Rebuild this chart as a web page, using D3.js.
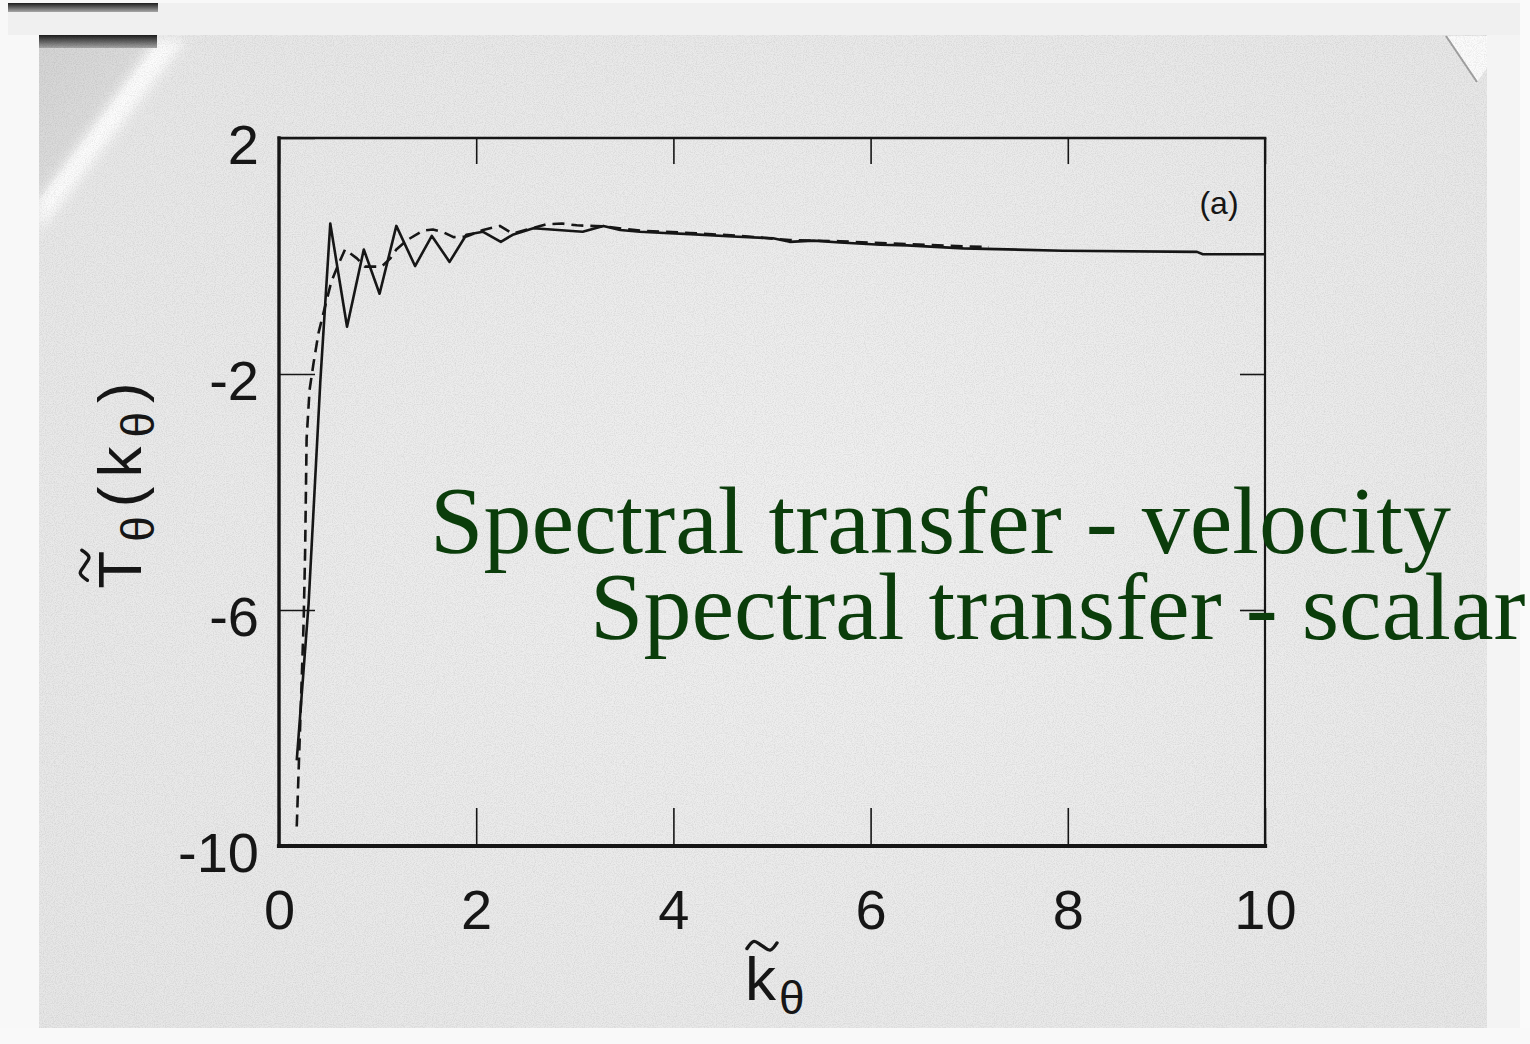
<!DOCTYPE html>
<html>
<head>
<meta charset="utf-8">
<script src="https://cdn.jsdelivr.net/npm/d3@7"></script>
<style>
  html, body { margin: 0; padding: 0; background: #f8f8f8; }
  svg { display: block; }
</style>
</head>
<body>
<svg id="chart" width="1530" height="1044"></svg>
<script>
// Spectral transfer of the scalar, T~θ(kθ), versus normalised wavenumber k~θ
const solidK = [0.18, 0.30, 0.42, 0.52, 0.69, 0.86, 1.02, 1.19, 1.38, 1.55, 1.73, 1.90, 2.07, 2.25, 2.37, 2.58, 3.08, 3.29, 3.46, 3.66, 3.91, 4.17, 4.60, 5.01, 5.18, 5.42, 5.69, 6.10, 6.37, 6.94, 7.95, 9.31, 9.37, 10.0];
const solidT = [-8.55, -5.9, -2.1, 0.55, -1.20, 0.11, -0.64, 0.51, -0.17, 0.34, -0.10, 0.36, 0.41, 0.24, 0.36, 0.47, 0.41, 0.51, 0.44, 0.41, 0.39, 0.37, 0.33, 0.30, 0.24, 0.26, 0.23, 0.19, 0.18, 0.13, 0.09, 0.07, 0.03, 0.03];

const dashedK = [0.18, 0.25, 0.265, 0.28, 0.31, 0.35, 0.40, 0.45, 0.53, 0.60, 0.67, 0.79, 0.87, 1.04, 1.13, 1.19, 1.30, 1.46, 1.56, 1.67, 1.77, 1.90, 2.07, 2.24, 2.37, 2.72, 2.87, 3.02, 3.30, 3.66, 4.17, 4.68, 5.18, 5.69, 6.37, 7.20];
const dashedT = [-9.67, -6.2, -5.0, -3.1, -2.27, -1.82, -1.31, -0.97, -0.44, -0.15, 0.11, -0.04, -0.18, -0.18, -0.04, 0.11, 0.27, 0.43, 0.45, 0.40, 0.32, 0.33, 0.44, 0.51, 0.38, 0.54, 0.55, 0.52, 0.50, 0.43, 0.39, 0.34, 0.27, 0.25, 0.20, 0.15];

const xTicks = [0, 2, 4, 6, 8, 10];
const xTickLabels = ["0", "2", "4", "6", "8", "10"];
const yTicks = [2, -2, -6, -10];
const yTickLabels = ["2", "-2", "-6", "-10"];
const panelTag = "(a)";
const overlayLines = ["Spectral transfer - velocity", "Spectral transfer - scalar"];

const svg = d3.select("#chart");
const defs = svg.append("defs");

// ---------- paper / slide background ----------
const pageGrad = defs.append("radialGradient").attr("id", "pageGrad")
  .attr("cx", "55%").attr("cy", "50%").attr("r", "75%");
pageGrad.append("stop").attr("offset", "0%").attr("stop-color", "#f0f0f0");
pageGrad.append("stop").attr("offset", "100%").attr("stop-color", "#e6e6e6");

const darkBar = defs.append("linearGradient").attr("id", "darkBar")
  .attr("x1", 0).attr("y1", 0).attr("x2", 0).attr("y2", 1);
darkBar.append("stop").attr("offset", "0%").attr("stop-color", "#1c1c1c");
darkBar.append("stop").attr("offset", "100%").attr("stop-color", "#a8a8a8");

const foldShade = defs.append("linearGradient").attr("id", "foldShade")
  .attr("x1", 0).attr("y1", 0).attr("x2", 1).attr("y2", 1);
foldShade.append("stop").attr("offset", "0%").attr("stop-color", "#d4d4d4");
foldShade.append("stop").attr("offset", "100%").attr("stop-color", "#e4e4e4");

const soft = defs.append("filter").attr("id", "soft")
  .attr("x", "-20%").attr("y", "-20%").attr("width", "140%").attr("height", "140%");
soft.append("feGaussianBlur").attr("stdDeviation", 6);

const grain = defs.append("filter").attr("id", "grain")
  .attr("x", 0).attr("y", 0).attr("width", "100%").attr("height", "100%");
grain.append("feTurbulence").attr("type", "fractalNoise")
  .attr("baseFrequency", 0.9).attr("numOctaves", 2).attr("seed", 7).attr("result", "n");
grain.append("feColorMatrix").attr("in", "n").attr("type", "matrix")
  .attr("values", "0 0 0 0 0  0 0 0 0 0  0 0 0 0 0  0 0 0 -1.6 1.0");

const clipPage = defs.append("clipPath").attr("id", "clipPage");
clipPage.append("rect").attr("x", 39).attr("y", 35).attr("width", 1448).attr("height", 993);

// outer sheet
svg.append("rect").attr("x", 8).attr("y", 3).attr("width", 1512).attr("height", 1027).attr("fill", "#f0f0f0");
svg.append("rect").attr("x", 8).attr("y", 3).attr("width", 150).attr("height", 9).attr("fill", "url(#darkBar)");
svg.append("rect").attr("x", 0).attr("y", 35).attr("width", 39).attr("height", 1009).attr("fill", "#f8f8f8");
svg.append("rect").attr("x", 1487).attr("y", 35).attr("width", 43).attr("height", 1009).attr("fill", "#f4f4f4");
svg.append("rect").attr("x", 1520).attr("y", 0).attr("width", 10).attr("height", 1044).attr("fill", "#fafafa");
svg.append("rect").attr("x", 0).attr("y", 1028).attr("width", 1530).attr("height", 16).attr("fill", "#f9f9f9");

// scanned page
const page = svg.append("g").attr("clip-path", "url(#clipPage)");
page.append("rect").attr("x", 39).attr("y", 35).attr("width", 1448).attr("height", 993).attr("fill", "url(#pageGrad)");
// folded corner, top left
page.append("polygon").attr("points", "39,46 156,46 39,200").attr("fill", "url(#foldShade)");
page.append("polygon").attr("points", "156,40 186,40 39,232 39,200")
  .attr("fill", "#fdfdfd").attr("filter", "url(#soft)");
page.append("rect").attr("x", 39).attr("y", 35).attr("width", 118).attr("height", 13).attr("fill", "url(#darkBar)");
// folded corner, top right
page.append("polygon").attr("points", "1446,36 1487,36 1487,68 1477,82").attr("fill", "#fbfbfb");
page.append("line").attr("x1", 1446).attr("y1", 36).attr("x2", 1477).attr("y2", 82)
  .attr("stroke", "#a0a0a0").attr("stroke-width", 2);
page.append("rect").attr("x", 39).attr("y", 35).attr("width", 1448).attr("height", 993)
  .attr("filter", "url(#grain)").attr("opacity", 0.10);

// ---------- plot ----------
const plot = { left: 279, right: 1265, top: 138, bottom: 846 };
const x = d3.scaleLinear().domain([0, 10]).range([plot.left, plot.right]);
const y = d3.scaleLinear().domain([-10, 2]).range([plot.bottom, plot.top]);

const ink = "#161616";
const font = "'Liberation Sans', Arial, Helvetica, sans-serif";

// inward ticks on all four sides
svg.append("g").attr("transform", `translate(0,${plot.bottom})`)
  .call(d3.axisBottom(x).tickValues(xTicks).tickSize(-38).tickPadding(43)
    .tickFormat((d, i) => xTickLabels[i]));
const gLeft = svg.append("g").attr("transform", `translate(${plot.left},0)`)
  .call(d3.axisLeft(y).tickValues(yTicks).tickSize(-36).tickPadding(20)
    .tickFormat((d, i) => yTickLabels[i]));
svg.append("g").attr("transform", `translate(0,${plot.top})`)
  .call(d3.axisTop(x).tickValues(xTicks).tickSize(-26).tickFormat(""));
svg.append("g").attr("transform", `translate(${plot.right},0)`)
  .call(d3.axisRight(y).tickValues(yTicks).tickSize(-25).tickFormat(""));

svg.selectAll(".domain").remove();
svg.selectAll(".tick line").attr("stroke", ink).attr("stroke-width", 1.6);
svg.selectAll(".tick text").attr("fill", ink).attr("font-family", font).attr("font-size", 56);
gLeft.selectAll(".tick text").attr("dy", "0.45em");

// frame: heavier bottom and left edges
const frame = svg.append("g").attr("stroke", ink).attr("stroke-linecap", "square");
frame.append("line").attr("x1", plot.left).attr("x2", plot.right).attr("y1", plot.top).attr("y2", plot.top).attr("stroke-width", 2.6);
frame.append("line").attr("x1", plot.right).attr("x2", plot.right).attr("y1", plot.top).attr("y2", plot.bottom).attr("stroke-width", 2.2);
frame.append("line").attr("x1", plot.left).attr("x2", plot.right).attr("y1", plot.bottom).attr("y2", plot.bottom).attr("stroke-width", 4.2);
frame.append("line").attr("x1", plot.left).attr("x2", plot.left).attr("y1", plot.top).attr("y2", plot.bottom).attr("stroke-width", 3.4);

// curves
const line = d3.line().x(d => x(d[0])).y(d => y(d[1]));
svg.append("path").datum(dashedK.map((k, i) => [k, dashedT[i]]))
  .attr("d", line).attr("fill", "none").attr("stroke", ink)
  .attr("stroke-width", 2.6).attr("stroke-dasharray", "12,7").attr("stroke-linejoin", "round");
svg.append("path").datum(solidK.map((k, i) => [k, solidT[i]]))
  .attr("d", line).attr("fill", "none").attr("stroke", ink)
  .attr("stroke-width", 2.6).attr("stroke-linejoin", "round");

// panel tag
svg.append("text").attr("x", 1219).attr("y", 214).attr("text-anchor", "middle")
  .attr("font-family", font).attr("font-size", 32).attr("fill", ink).text(panelTag);

// tilde accent drawn as a small wave centred over the first glyph of a text node
const tildeShape = d3.line().curve(d3.curveCatmullRom)
  .x(d => d[0]).y(d => d[1]);
function addTilde(parent, textNode, cy, width) {
  const box = textNode.getExtentOfChar(0);
  const cx = box.x + box.width / 2;
  const h = width * 0.17;
  const pts = [[-0.5, 0.55], [-0.27, -0.85], [0, 0], [0.27, 0.85], [0.5, -0.55]]
    .map(p => [cx + p[0] * width, cy + p[1] * h]);
  parent.append("path").attr("d", tildeShape(pts))
    .attr("fill", "none").attr("stroke", ink).attr("stroke-width", 3.4).attr("stroke-linecap", "round");
}

// y-axis title: T~θ(kθ)
const yTitleSize = 62;
const yTitleG = svg.append("g").attr("transform", "translate(141,481) rotate(-90)");
const yTitle = yTitleG.append("text").attr("text-anchor", "middle")
  .attr("font-family", font).attr("font-size", yTitleSize).attr("fill", ink)
  .attr("letter-spacing", 9);
yTitle.append("tspan").text("T");
yTitle.append("tspan").attr("font-size", 46).attr("dy", 13).text("θ");
yTitle.append("tspan").attr("dy", -13).text("(k");
yTitle.append("tspan").attr("font-size", 46).attr("dy", 13).text("θ");
yTitle.append("tspan").attr("dy", -13).text(")");
addTilde(yTitleG, yTitle.node(), -0.716 * yTitleSize - 12, 30);

// x-axis title: k~θ
const xTitleSize = 62;
const xTitleG = svg.append("g");
const xTitle = xTitleG.append("text").attr("x", 745).attr("y", 1000)
  .attr("font-family", font).attr("font-size", xTitleSize).attr("fill", ink)
  .attr("letter-spacing", 3);
xTitle.append("tspan").text("k");
xTitle.append("tspan").attr("font-size", 46).attr("dy", 14).text("θ");
addTilde(xTitleG, xTitle.node(), 1000 - 0.73 * xTitleSize - 9, 30);

// overlaid slide captions
const captionColor = "#0b3d0b";
const captionFont = "'Liberation Serif', 'Times New Roman', serif";
svg.append("text").attr("x", 430).attr("y", 553)
  .attr("font-family", captionFont).attr("font-size", 96)
  .attr("fill", captionColor).text(overlayLines[0]);
svg.append("text").attr("x", 590).attr("y", 639)
  .attr("font-family", captionFont).attr("font-size", 96)
  .attr("fill", captionColor).text(overlayLines[1]);
</script>
</body>
</html>
